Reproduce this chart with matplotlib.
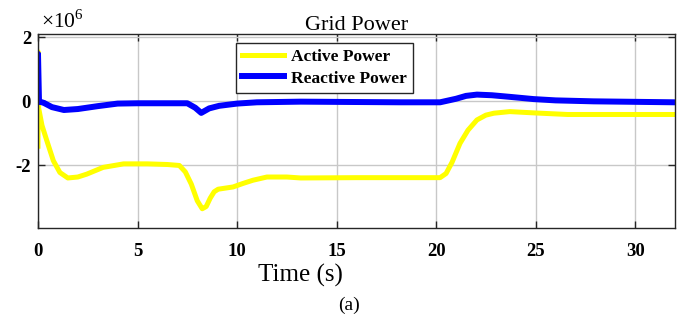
import matplotlib
matplotlib.use('Agg')
import matplotlib.pyplot as plt

# values (x1e6)
t_active = [0, 0, 0.03, 0.2, 0.44, 0.77, 1.1, 1.5, 2.0, 2.45, 3.27, 4.3, 5.5, 6.5,
            7.1, 7.4, 7.7, 8.0, 8.25, 8.45, 8.65, 8.85, 9.05, 9.8, 10.3, 10.8, 11.5,
            12.5, 13.2, 16.0, 20.2, 20.5, 20.8, 21.2, 21.6, 22.05, 22.5, 22.9, 23.7,
            24.9, 26.6, 32.0]
p_active = [-1.4, 1.55, -0.2, -0.75, -1.22, -1.85, -2.22, -2.39, -2.36, -2.27, -2.06,
            -1.95, -1.95, -1.97, -2.0, -2.2, -2.58, -3.1, -3.35, -3.28, -3.02, -2.82,
            -2.74, -2.67, -2.56, -2.46, -2.36, -2.36, -2.39, -2.38, -2.38, -2.25, -1.9,
            -1.31, -0.9, -0.58, -0.43, -0.37, -0.32, -0.36, -0.41, -0.41]

t_reactive = [0, 0, 0.05, 0.3, 0.7, 1.3, 2.0, 3.0, 4.0, 5.0, 7.5, 7.9, 8.2, 8.6, 9.1,
              10.0, 11.0, 13.2, 18.2, 20.2, 21.0, 21.5, 22.05, 22.8, 23.7, 24.9, 26.0,
              27.9, 32.0]
q_reactive = [0.0, 1.48, 0.0, -0.05, -0.18, -0.27, -0.24, -0.15, -0.07, -0.06, -0.06,
              -0.2, -0.36, -0.22, -0.14, -0.07, -0.03, -0.01, -0.03, -0.03, 0.08, 0.17,
              0.21, 0.19, 0.14, 0.07, 0.03, 0.0, -0.03]

xticks = [0, 5, 10, 15, 20, 25, 30]
yticks = [-2, 0, 2]

plt.rcParams['font.family'] = 'Liberation Serif'
plt.rcParams['mathtext.fontset'] = 'custom'
plt.rcParams['mathtext.rm'] = 'Liberation Serif'
plt.rcParams['axes.unicode_minus'] = False

fig = plt.figure(figsize=(6.81, 3.2), dpi=100)
ax = fig.add_axes([38 / 681, 1 - 228 / 320, 637 / 681, 194 / 320])

ax.plot(t_active, p_active, color='#ffff00', lw=3.6, label='Active Power',
        solid_joinstyle='round')
ax.plot(t_reactive, q_reactive, color='#0000ff', lw=4.3, label='Reactive Power',
        solid_joinstyle='round')

ax.set_xlim(0, 32)
ax.set_ylim(-3.95, 2.1)
ax.set_xticks(xticks)
ax.set_yticks(yticks)
ax.set_xticklabels([str(v) for v in xticks], fontweight='bold', fontsize=13.5)
ax.set_yticklabels([str(v) for v in yticks], fontweight='bold', fontsize=13.5)
ax.tick_params(direction='in', length=5, width=1, top=True, right=True,
               color='#262626')
ax.tick_params(axis='x', pad=11)
ax.tick_params(axis='y', pad=5)
ax.grid(True, color='#c8c8c8', lw=1)
for s in ax.spines.values():
    s.set_color('#262626')
    s.set_linewidth(1)

leg = ax.legend(loc='upper left', bbox_to_anchor=(0.311, 0.954), borderaxespad=0,
                prop={'weight': 'bold', 'size': 12.5}, fancybox=False,
                edgecolor='#262626', handlelength=2.4, handletextpad=0.4,
                borderpad=0.35, labelspacing=0.3, framealpha=1)
leg.get_frame().set_linewidth(1)

fig.text(357 / 681, 1 - 25 / 320, 'Grid Power', ha='center', va='center', fontsize=16)
fig.text(41 / 681, 1 - 28 / 320, r'$\times 10^{6}$', ha='left', va='baseline', fontsize=15.5)
fig.text(300 / 681, 1 - 275 / 320, 'Time (s)', ha='center', va='center', fontsize=18)
fig.text(349 / 681, 1 - 305 / 320, '(a)', ha='center', va='center', fontsize=14)

fig.savefig('out.png', dpi=100)
